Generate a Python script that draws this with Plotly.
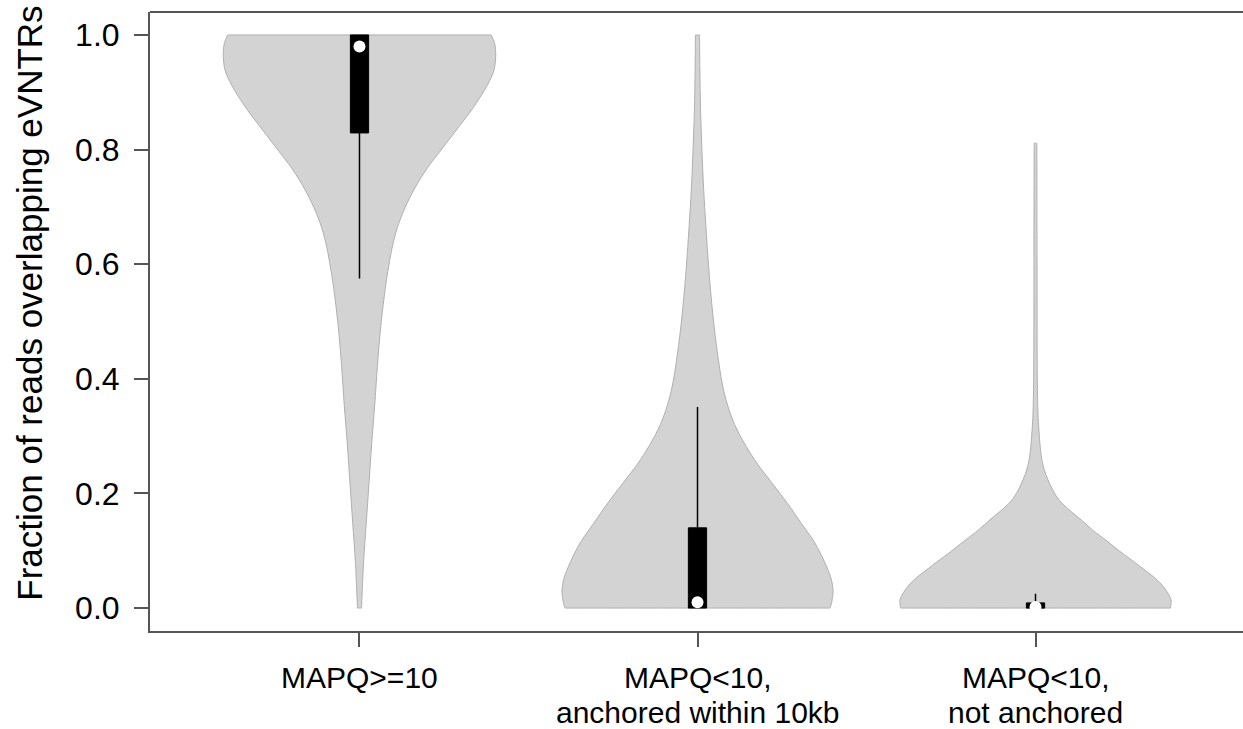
import plotly.graph_objects as go

# Group labels (two lines each) and their positions on the x axis
groups_line1 = ["MAPQ>=10", "MAPQ<10,", "MAPQ<10,"]
groups_line2 = ["", "anchored within 10kb", "not anchored"]
positions = [1, 2, 3]

# Violin outlines: fraction level and half-width (in x-axis units) of the density
v1_y = [1.0, 0.985, 0.964, 0.939, 0.912, 0.871, 0.836, 0.802, 0.767, 0.733, 0.699,
        0.664, 0.630, 0.595, 0.561, 0.492, 0.423, 0.354, 0.286, 0.217, 0.148, 0.079, 0.0]
v1_w = [0.390, 0.400, 0.403, 0.398, 0.378, 0.334, 0.289, 0.245, 0.200, 0.164, 0.135,
        0.112, 0.097, 0.086, 0.077, 0.063, 0.053, 0.045, 0.036, 0.028, 0.020, 0.012, 0.006]

v2_y = [1.0, 0.939, 0.871, 0.802, 0.733, 0.664, 0.595, 0.526, 0.458, 0.389, 0.354,
        0.320, 0.286, 0.251, 0.217, 0.182, 0.148, 0.114, 0.079, 0.052, 0.031, 0.010, 0.0]
v2_w = [0.006, 0.007, 0.009, 0.013, 0.018, 0.025, 0.033, 0.043, 0.056, 0.074, 0.089,
        0.110, 0.140, 0.178, 0.222, 0.267, 0.307, 0.347, 0.377, 0.395, 0.401, 0.397, 0.392]

v3_y = [0.811, 0.60, 0.398, 0.340, 0.311, 0.281, 0.258, 0.241, 0.225, 0.206, 0.188,
        0.171, 0.154, 0.136, 0.119, 0.101, 0.084, 0.066, 0.049, 0.031, 0.014, 0.0]
v3_w = [0.004, 0.0045, 0.0054, 0.0074, 0.010, 0.014, 0.019, 0.026, 0.036, 0.051, 0.0705,
        0.100, 0.135, 0.169, 0.207, 0.245, 0.284, 0.324, 0.360, 0.386, 0.401, 0.399]

# Box-plot summaries per group
q1 = [0.829, 0.0, 0.0]
q3 = [1.0, 0.140, 0.009]
whisker_lo = [0.575, 0.0, 0.0]
whisker_hi = [1.0, 0.351, 0.025]
medians = [0.980, 0.010, 0.002]

BOX_HALF = 0.027
FILL = "#d3d3d3"
EDGE = "#b0b0b0"
AXIS = "#555555"
FONT = "Liberation Sans, Arial, sans-serif"

fig = go.Figure()

for pos, ys, ws in zip(positions, [v1_y, v2_y, v3_y], [v1_w, v2_w, v3_w]):
    left_x = [pos - w for w in ws]
    right_x = [pos + w for w in reversed(ws)]
    right_y = list(reversed(ys))
    # corner points are doubled so the smoothed outline keeps its flat ends
    xs = [left_x[0]] + left_x + [left_x[-1]] + [right_x[0]] + right_x + [right_x[-1], left_x[0]]
    yy = [ys[0]] + list(ys) + [ys[-1]] + [right_y[0]] + right_y + [right_y[-1], ys[0]]
    fig.add_trace(go.Scatter(
        x=xs, y=yy, mode="lines", fill="toself",
        fillcolor=FILL, line=dict(color=EDGE, width=1, shape="spline", smoothing=0.9),
        hoverinfo="skip", showlegend=False))

# Whiskers
wx, wy = [], []
for pos, lo, a, b, hi in zip(positions, whisker_lo, q1, q3, whisker_hi):
    wx += [pos, pos, None, pos, pos, None]
    wy += [lo, a, None, b, hi, None]
fig.add_trace(go.Scatter(x=wx, y=wy, mode="lines", line=dict(color="black", width=1.5),
                         hoverinfo="skip", showlegend=False))

# Boxes (interquartile range)
for pos, a, b in zip(positions, q1, q3):
    fig.add_trace(go.Scatter(
        x=[pos - BOX_HALF, pos + BOX_HALF, pos + BOX_HALF, pos - BOX_HALF, pos - BOX_HALF],
        y=[a, a, b, b, a], mode="lines", fill="toself", fillcolor="black",
        line=dict(color="black", width=1), hoverinfo="skip", showlegend=False))

# Medians
fig.add_trace(go.Scatter(x=positions, y=medians, mode="markers",
                         marker=dict(color="white", size=12, line=dict(width=0)),
                         hoverinfo="skip", showlegend=False))

# Category labels under the axis
for pos, l1, l2 in zip(positions, groups_line1, groups_line2):
    fig.add_annotation(x=pos, y=-0.075, xref="x", yref="paper", text=l1, showarrow=False,
                       xanchor="center", yanchor="middle",
                       font=dict(family=FONT, size=30, color="black"))
    if l2:
        fig.add_annotation(x=pos, y=-0.132, xref="x", yref="paper", text=l2, showarrow=False,
                           xanchor="center", yanchor="middle",
                           font=dict(family=FONT, size=30, color="black"))

# Y-axis title
fig.add_annotation(x=-0.110, y=0.530, xref="paper", yref="paper",
                   text="Fraction of reads overlapping eVNTRs", textangle=-90,
                   showarrow=False, xanchor="center", yanchor="middle",
                   font=dict(family=FONT, size=35, color="black"))

# Top border of the plotting region
fig.add_shape(type="line", xref="paper", yref="paper", x0=0, x1=1, y0=1, y1=1,
              line=dict(color=AXIS, width=2))

fig.update_layout(
    width=1243, height=729,
    margin=dict(l=150, r=0, t=12, b=98),
    paper_bgcolor="white", plot_bgcolor="white",
    showlegend=False,
    font=dict(family=FONT, color="black"),
)
fig.update_xaxes(range=[0.3802, 3.6139], tickvals=positions, ticktext=["", "", ""],
                 ticks="outside", ticklen=14, tickwidth=1.5, tickcolor=AXIS,
                 showline=True, linecolor=AXIS, linewidth=2, showgrid=False, zeroline=False)
fig.update_yaxes(range=[-0.04, 1.04], tickvals=[0, 0.2, 0.4, 0.6, 0.8, 1.0],
                 tickformat=".1f", ticks="outside", ticklen=14, tickwidth=1.5,
                 tickcolor=AXIS, ticklabelstandoff=8,
                 tickfont=dict(family=FONT, size=32, color="black"),
                 showline=True, linecolor=AXIS, linewidth=2, showgrid=False, zeroline=False)

fig.write_html("out.html")
